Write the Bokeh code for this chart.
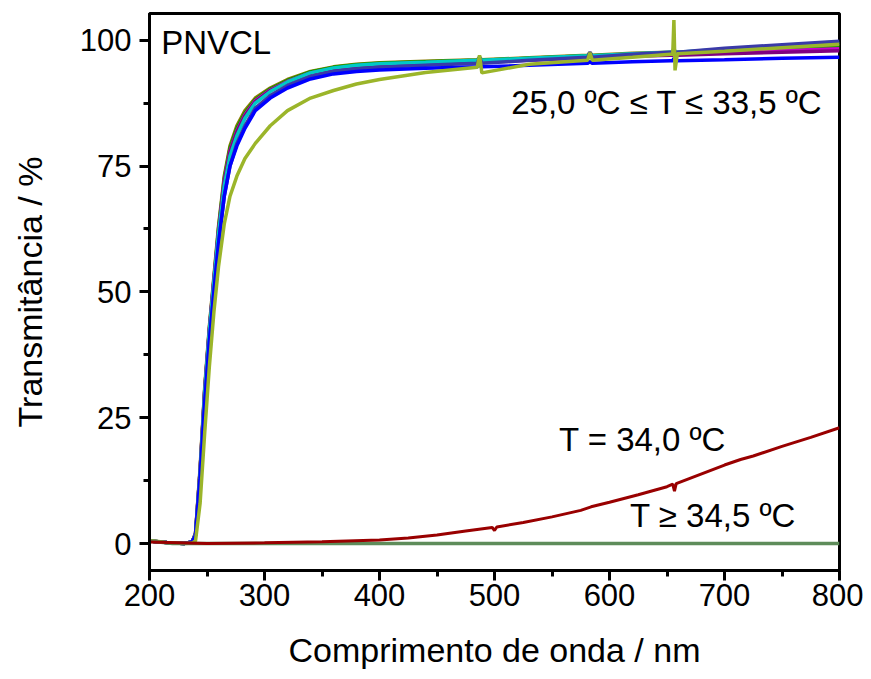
from bokeh.plotting import figure
from bokeh.models import Range1d, FixedTicker, Label
from bokeh.embed import file_html
from bokeh.resources import INLINE

# ---------------- data ----------------
wl = [200, 215, 230, 237, 240, 244, 248, 252, 256, 260, 265, 270, 276, 283, 292,
      305, 320, 340, 360, 380, 400, 440, 485, 487, 489, 530, 581, 583, 585, 620,
      653, 655, 656, 657, 659, 700, 750, 800]

# 25,0 ºC <= T <= 33,5 ºC group
t_olive_brown = [0.5, 0.2, 0.0, 0.3, 2.0, 15.0, 31.0, 43.0, 53.0, 63.0, 73.0, 79.0, 83.0, 86.0, 88.5,
                 90.5, 92.2, 93.8, 94.7, 95.2, 95.5, 95.8, 96.1, 96.6, 96.1, 96.5, 97.0, 97.5, 97.0, 97.4,
                 97.6, 97.6, 98.2, 97.6, 97.6, 98.0, 98.4, 98.9]
t_green = [0.5, 0.2, 0.0, 0.3, 1.9, 14.5, 30.5, 42.5, 52.5, 62.5, 72.5, 78.5, 82.5, 85.5, 88.2,
           90.3, 92.0, 93.7, 94.6, 95.1, 95.4, 95.7, 96.0, 96.5, 96.0, 96.4, 96.9, 97.4, 96.9, 97.2,
           97.4, 97.4, 98.0, 97.4, 97.4, 97.8, 98.1, 98.5]
t_magenta = [0.5, 0.2, 0.0, 0.3, 1.9, 14.5, 30.5, 42.5, 52.5, 62.0, 72.0, 78.0, 82.0, 85.2, 88.0,
             90.1, 91.8, 93.5, 94.4, 94.9, 95.2, 95.5, 95.8, 96.3, 95.8, 96.2, 96.7, 97.2, 96.7, 97.0,
             97.2, 97.2, 97.8, 97.2, 97.2, 97.5, 97.9, 98.3]
t_purple = [0.5, 0.2, 0.0, 0.3, 1.9, 14.3, 30.2, 42.2, 52.2, 61.8, 71.8, 77.8, 81.8, 85.0, 87.8,
            90.0, 91.7, 93.4, 94.3, 94.8, 95.1, 95.4, 95.6, 96.1, 95.6, 96.0, 96.5, 97.0, 96.5, 96.8,
            97.0, 97.0, 97.6, 97.0, 97.0, 97.3, 97.6, 97.9]
t_cyan = [0.5, 0.2, 0.0, 0.3, 1.8, 14.0, 30.0, 42.0, 52.0, 61.5, 71.0, 77.0, 81.0, 84.5, 87.5,
          89.8, 91.7, 93.5, 94.5, 95.0, 95.3, 95.6, 96.0, 96.5, 96.0, 96.4, 96.9, 97.4, 96.9, 97.3,
          97.6, 97.6, 98.3, 97.6, 97.6, 98.2, 98.8, 99.4]
t_navy = [0.5, 0.2, 0.0, 0.3, 1.6, 13.0, 28.0, 40.0, 50.0, 59.5, 69.0, 75.0, 79.5, 83.0, 86.5,
          89.0, 91.0, 92.8, 93.8, 94.3, 94.6, 95.0, 95.4, 96.6, 95.4, 96.0, 96.6, 97.6, 96.6, 97.2,
          97.6, 97.6, 98.5, 97.6, 97.6, 98.4, 99.1, 99.8]
t_blue = [0.5, 0.2, 0.0, 0.3, 1.6, 13.0, 28.0, 40.0, 50.0, 59.5, 69.0, 75.0, 79.0, 82.5, 86.0,
          88.5, 90.5, 92.3, 93.3, 93.8, 94.1, 94.4, 94.7, 95.0, 94.7, 95.0, 95.4, 95.8, 95.4, 95.7,
          95.9, 95.9, 96.4, 95.9, 95.9, 96.1, 96.4, 96.6]
t_yellowgreen = [0.6, 0.2, 0.0, 0.1, 0.5, 8.0, 22.0, 35.0, 46.0, 55.0, 63.5, 69.0, 73.0, 76.5, 79.5,
                 83.0, 86.0, 88.5, 90.0, 91.3, 92.2, 93.6, 94.6, 97.0, 93.5, 95.2, 96.0, 97.5, 96.0, 96.6,
                 97.2, 97.2, 104.0, 94.0, 97.3, 97.8, 98.5, 99.2]

top_series = [t_olive_brown, t_green, t_magenta, t_purple, t_cyan, t_navy, t_blue, t_yellowgreen]
top_colors = ["#8C7A00", "#00A000", "#CC00CC", "#800080", "#00C8C8", "#3A3AA8", "#0000FF", "#9BB52A"]

# T = 34,0 ºC
wl_340 = [200, 250, 300, 350, 400, 425, 450, 475, 498, 500, 502, 525, 550, 575, 584, 600, 625,
          650, 655, 656.5, 658, 675, 700, 714, 725, 750, 775, 800]
t_340 = [0.3, 0.0, 0.15, 0.35, 0.7, 1.1, 1.7, 2.5, 3.2, 2.6, 3.3, 4.2, 5.3, 6.6, 7.3, 8.2, 9.7,
         11.3, 11.8, 10.4, 11.9, 13.4, 15.6, 16.7, 17.4, 19.3, 21.1, 23.0]

# T >= 34,5 ºC
wl_345 = [200, 220, 240, 800]
t_345 = [0.5, 0.0, 0.0, 0.0]

x_ticks = [200, 300, 400, 500, 600, 700, 800]
x_minor = [250, 350, 450, 550, 650, 750]
y_ticks = [0, 25, 50, 75, 100]
y_minor = [-12.5, 12.5, 37.5, 62.5, 87.5]

FONT = "Liberation Sans"

p = figure(width=863, height=671, output_backend="svg", toolbar_location=None,
           x_range=Range1d(200, 800), y_range=Range1d(-5.35, 105.3),
           min_border_left=149, min_border_right=24, min_border_top=13, min_border_bottom=99)
p.background_fill_color = "white"
p.border_fill_color = "white"
p.xgrid.visible = False
p.ygrid.visible = False
p.outline_line_color = "black"
p.outline_line_width = 3

for ys, c in zip(top_series, top_colors):
    p.line(wl, ys, line_color=c, line_width=3.5)
p.line(wl_345, t_345, line_color="#5E8C5A", line_width=3.5)
p.line(wl_340, t_340, line_color="#990000", line_width=3)

p.xaxis.ticker = FixedTicker(ticks=x_ticks, minor_ticks=x_minor)
p.yaxis.ticker = FixedTicker(ticks=y_ticks, minor_ticks=y_minor)
for ax in (p.xaxis[0], p.yaxis[0]):
    ax.axis_line_width = 3
    ax.axis_line_color = "black"
    ax.major_tick_line_width = 3
    ax.minor_tick_line_width = 3
    ax.major_tick_out = 10
    ax.major_tick_in = 0
    ax.minor_tick_out = 6
    ax.minor_tick_in = 0
    ax.major_label_text_font = FONT
    ax.major_label_text_font_size = "31px"
    ax.major_label_text_color = "black"
    ax.axis_label_text_font = FONT
    ax.axis_label_text_font_size = "34px"
    ax.axis_label_text_font_style = "normal"
    ax.axis_label_text_color = "black"

p.xaxis.axis_label = "Comprimento de onda / nm"
p.yaxis.axis_label = "Transmitância / %"
p.xaxis.major_label_standoff = 3
p.xaxis.axis_label_standoff = 22
p.yaxis.major_label_standoff = 8
p.yaxis.axis_label_standoff = 28

def add_text(x, y, s, align="center"):
    p.add_layout(Label(x=x, y=y, text=s, text_font=FONT, text_font_size="33px",
                       text_align=align, text_baseline="middle", text_color="black"))

add_text(258, 99.6, "PNVCL")
add_text(650, 87.7, "25,0 ºC ≤ T ≤ 33,5 ºC")
add_text(628.7, 20.6, "T = 34,0 ºC")
add_text(690, 5.5, "T ≥ 34,5 ºC")

open("out.html", "w").write(file_html(p, INLINE))
